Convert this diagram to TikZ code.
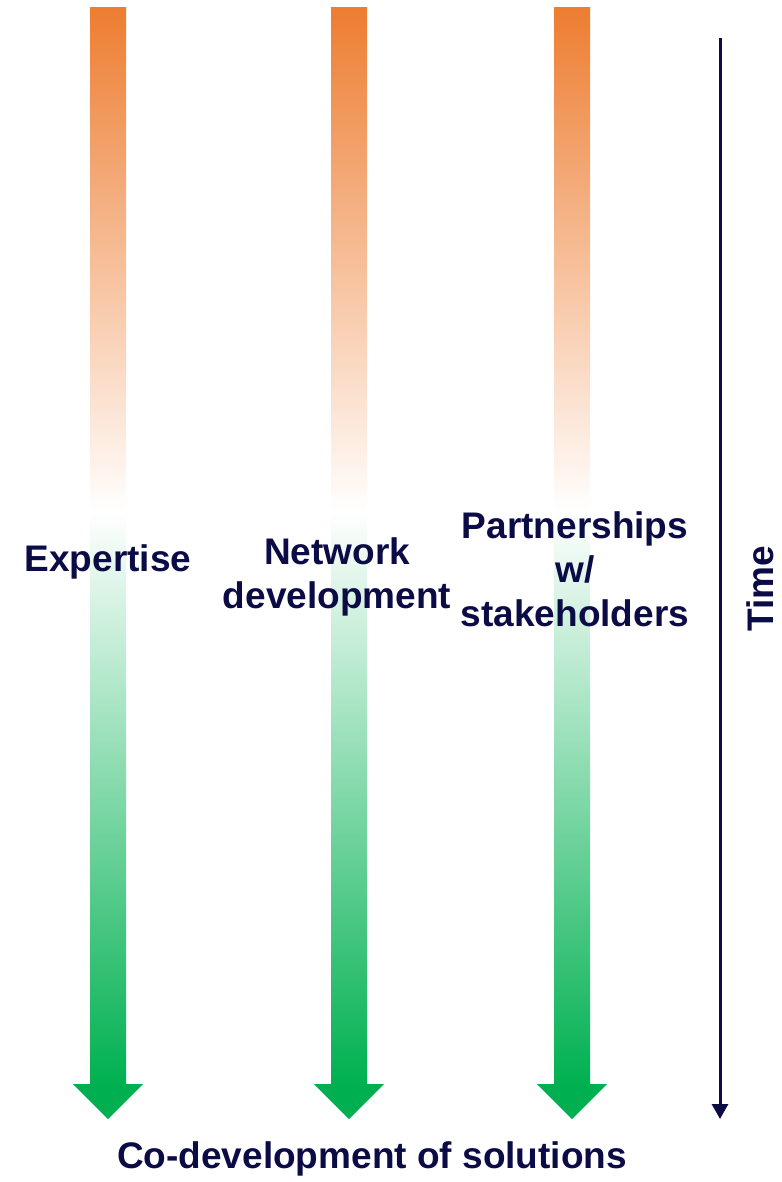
\documentclass[tikz,border=0pt]{standalone}
\usepackage{fontspec}
\setmainfont{Liberation Sans}
\usetikzlibrary{positioning,arrows.meta}
\definecolor{flowOrange}{HTML}{ED7D31}
\definecolor{flowGreen}{HTML}{00B050}
\definecolor{labelNavy}{HTML}{0B0B45}

\begin{document}
\begin{tikzpicture}[x=1pt,y=-1pt,
  lbl/.style={text=labelNavy,inner sep=0pt,align=center,
    font=\fontsize{37}{44}\selectfont\bfseries},
  upper/.style={top color=flowOrange,bottom color=white},
  lower/.style={top color=white,bottom color=flowGreen},
  timeline/.style={draw=labelNavy,line width=3pt,
    -{Triangle[width=16pt,length=15pt]}}]
\useasboundingbox (0,0) rectangle (781,1182);
% Three wide arrows: orange fading to white, then white into green
\foreach \name/\cx in {exp/108,net/349,part/572}{
  \shade[upper] (\cx-18,8) rectangle (\cx+18,513);
  \shade[lower] (\cx-18,512) rectangle (\cx+18,1085);
  \fill[flowGreen] (\cx-35,1084) -- (\cx+35,1084) -- (\cx,1119) -- cycle;
  \coordinate (\name tip) at (\cx,1119);
}
% Labels over the arrows
\node[lbl] (expertise) at (108,562) {Expertise};
\node[lbl] (network) at (337,577) {Network\\development};
\node[lbl] (partners) at (575,569) {Partnerships\\w/\\stakeholders};
\node[lbl] (outcome) at (372,1159) {Co-development of solutions};
% Time axis on the right
\coordinate (timetop) at (720,38);
\coordinate (timeend) at (720,1119);
\draw[timeline] (timetop) -- (timeend);
\node[lbl,rotate=90] (time) at (760,589) {Time};
\end{tikzpicture}
\end{document}
